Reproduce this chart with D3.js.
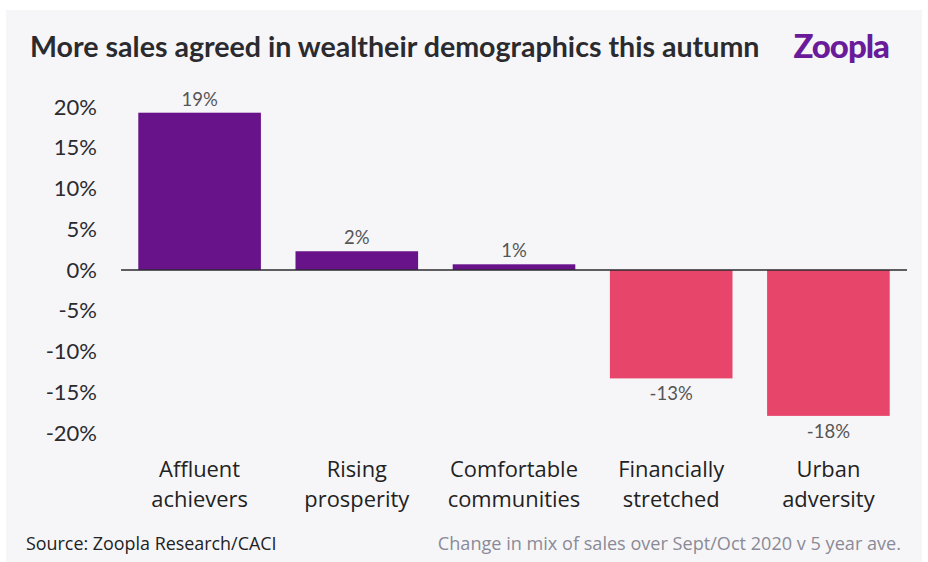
<!DOCTYPE html>
<html>
<head>
<meta charset="utf-8">
<script src="https://cdn.jsdelivr.net/npm/d3@7"></script>
<style>
  body { margin: 0; background: #fff; }
  svg { display: block; }
</style>
</head>
<body>
<div id="chart"></div>
<script>
// segments and their change in sales mix (%)
const categories = [
  ["Affluent", "achievers"],
  ["Rising", "prosperity"],
  ["Comfortable", "communities"],
  ["Financially", "stretched"],
  ["Urban", "adversity"]
];
const values = [19.3, 2.3, 0.7, -13.3, -17.9];
const valueLabels = ["19%", "2%", "1%", "-13%", "-18%"];
const yTicks = [20, 15, 10, 5, 0, -5, -10, -15, -20];

const width = 928, height = 562;

const svg = d3.select("#chart").append("svg")
  .attr("width", width)
  .attr("height", height);

// light panel behind everything
svg.append("rect")
  .attr("x", 6).attr("y", 10)
  .attr("width", 916).attr("height", 552)
  .attr("fill", "#f6f6f9");

svg.append("text")
  .attr("x", 30).attr("y", 57)
  .attr("font-family", "Lato, sans-serif")
  .attr("font-weight", 700)
  .attr("font-size", 28.6)
  .attr("fill", "#2b2b2f")
  .text("More sales agreed in wealtheir demographics this autumn");

svg.append("text")
  .attr("x", 889).attr("y", 58)
  .attr("text-anchor", "end")
  .attr("font-family", "Lato, sans-serif")
  .attr("font-weight", 900)
  .attr("font-size", 33)
  .attr("letter-spacing", -1)
  .attr("fill", "#6a1b9a")
  .text("Zoopla");

const x = d3.scaleBand()
  .domain(d3.range(categories.length))
  .range([121, 907])
  .paddingInner(0.22)
  .paddingOuter(0.11);

const y = d3.scaleLinear()
  .domain([-20, 20])
  .range([433, 107]);

// y axis, text only
const yAxis = svg.append("g")
  .attr("transform", "translate(97,0)")
  .call(d3.axisLeft(y).tickValues(yTicks).tickSize(0).tickPadding(0)
    .tickFormat(d => d + "%"));
yAxis.select(".domain").remove();
yAxis.selectAll("text")
  .attr("font-family", "Lato, sans-serif")
  .attr("font-size", 22)
  .attr("fill", "#2b2b2f");

svg.selectAll(".bar")
  .data(values)
  .join("rect")
  .attr("class", "bar")
  .attr("x", (d, i) => x(i))
  .attr("width", x.bandwidth())
  .attr("y", d => y(Math.max(0, d)))
  .attr("height", d => Math.abs(y(d) - y(0)))
  .attr("fill", d => d >= 0 ? "#68138a" : "#e8456a");

svg.append("line")
  .attr("x1", 121).attr("x2", 907)
  .attr("y1", y(0)).attr("y2", y(0))
  .attr("stroke", "#2b2b2f")
  .attr("stroke-width", 1.3);

svg.selectAll(".val")
  .data(values)
  .join("text")
  .attr("class", "val")
  .attr("x", (d, i) => x(i) + x.bandwidth() / 2)
  .attr("y", d => d >= 0 ? y(d) - 7 : y(d) + 22)
  .attr("text-anchor", "middle")
  .attr("font-family", "Lato, sans-serif")
  .attr("font-size", 18.5)
  .attr("fill", "#555")
  .text((d, i) => valueLabels[i]);

// category labels on two lines
const cat = svg.selectAll(".cat")
  .data(categories)
  .join("text")
  .attr("class", "cat")
  .attr("text-anchor", "middle")
  .attr("font-family", "'Open Sans', sans-serif")
  .attr("font-size", 21.9)
  .attr("fill", "#222");
cat.selectAll("tspan")
  .data((d, i) => d.map(t => ({ t, i })))
  .join("tspan")
  .attr("x", d => x(d.i) + x.bandwidth() / 2)
  .attr("y", (d, j) => 477 + j * 30)
  .text(d => d.t);

svg.append("text")
  .attr("x", 26).attr("y", 550)
  .attr("font-family", "'Open Sans', sans-serif")
  .attr("font-size", 17.9)
  .attr("fill", "#222")
  .text("Source: Zoopla Research/CACI");

svg.append("text")
  .attr("x", 901).attr("y", 550)
  .attr("text-anchor", "end")
  .attr("font-family", "'Open Sans', sans-serif")
  .attr("font-size", 18.1)
  .attr("fill", "#8a8a96")
  .text("Change in mix of sales over Sept/Oct 2020 v 5 year ave.");
</script>
</body>
</html>
